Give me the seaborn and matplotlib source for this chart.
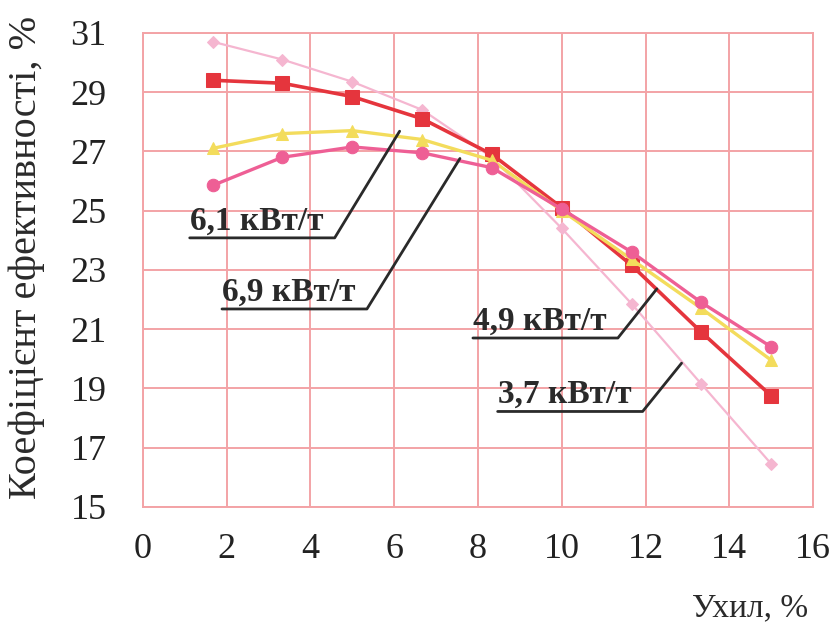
import numpy as np
import pandas as pd
import seaborn as sns
import matplotlib
matplotlib.use("Agg")
import matplotlib.pyplot as plt

# data
slope = [1.67, 3.33, 5.0, 6.67, 8.33, 10.0, 11.67, 13.33, 15.0]
eff_37 = [30.7, 30.1, 29.35, 28.4, 26.8, 24.4, 21.85, 19.15, 16.45]
eff_49 = [29.4, 29.3, 28.85, 28.1, 26.9, 25.1, 23.15, 20.9, 18.75]
eff_61 = [27.1, 27.6, 27.7, 27.4, 26.7, 25.0, 23.35, 21.7, 19.95]
eff_69 = [25.85, 26.8, 27.15, 26.95, 26.45, 25.05, 23.6, 21.9, 20.4]

series_names = ["3,7 кВт/т", "4,9 кВт/т", "6,1 кВт/т", "6,9 кВт/т"]
x_ticks = [0, 2, 4, 6, 8, 10, 12, 14, 16]
y_ticks = [15, 17, 19, 21, 23, 25, 27, 29, 31]

df = pd.DataFrame({
    "slope": slope * 4,
    "eff": eff_37 + eff_49 + eff_61 + eff_69,
    "power": np.repeat(series_names, len(slope)),
})

sns.set_style("white")
plt.rcParams["font.family"] = ["Liberation Serif", "DejaVu Serif"]

colors = {"3,7 кВт/т": "#f5b6d0", "4,9 кВт/т": "#e5353d",
          "6,1 кВт/т": "#f3dc5c", "6,9 кВт/т": "#ee5f95"}
markers = {"3,7 кВт/т": "D", "4,9 кВт/т": "s", "6,1 кВт/т": "^", "6,9 кВт/т": "o"}
msize = {"3,7 кВт/т": 6, "4,9 кВт/т": 10, "6,1 кВт/т": 9, "6,9 кВт/т": 9}
lwidth = {"3,7 кВт/т": 1.6, "4,9 кВт/т": 2.6, "6,1 кВт/т": 2.4, "6,9 кВт/т": 2.4}

fig = plt.figure(figsize=(8.4, 6.32), dpi=100)
ax = fig.add_axes([0.170, 0.198, 0.798, 0.750])

grid_col = "#f3a3a6"
ax.set_axisbelow(True)
ax.grid(True, color=grid_col, lw=1.4)

for name in series_names:
    sub = df[df["power"] == name]
    sns.lineplot(data=sub, x="slope", y="eff", ax=ax, color=colors[name],
                 marker=markers[name], markersize=msize[name], lw=lwidth[name],
                 markeredgecolor=colors[name], legend=False)

# leader annotations: underline start, underline end, line tip
notes = [
    ("6,1 кВт/т", 1.12, 4.58, 24.08, 6.13, 27.68),
    ("6,9 кВт/т", 1.89, 5.35, 21.68, 7.57, 26.76),
    ("4,9 кВт/т", 7.88, 11.34, 20.70, 12.27, 22.36),
    ("3,7 кВт/т", 8.47, 11.93, 18.22, 12.86, 19.85),
]
for label, x0, x1, y0, x2, y2 in notes:
    ax.plot([x0, x1, x2], [y0, y0, y2], color="#2a2a2a", lw=2.0, zorder=5)
    ax.annotate(label, xy=(x0, y0), xytext=(0, 1), textcoords="offset points",
                ha="left", va="bottom", fontsize=24, fontweight="bold",
                color="#2a2a2a", zorder=6)

ax.set_xlim(0, 16)
ax.set_ylim(15, 31)
ax.set_xticks(x_ticks)
ax.set_yticks(y_ticks)
ax.tick_params(axis="both", labelsize=26, colors=grid_col, labelcolor="#222222",
               length=6, width=1.2, direction="out")
ax.tick_params(axis="x", pad=13)
ax.tick_params(axis="y", pad=20)
for sp in ax.spines.values():
    sp.set_color(grid_col)
    sp.set_linewidth(1.4)

ax.set_xlabel("Ухил, %", fontsize=24, color="#2a2a2a")
ax.set_ylabel("Коефіцієнт ефективності, %", fontsize=29, color="#2a2a2a")
ax.xaxis.set_label_coords(0.906, -0.182)
ax.yaxis.set_label_coords(-0.146, 0.527)

fig.savefig("out.png", dpi=100)
